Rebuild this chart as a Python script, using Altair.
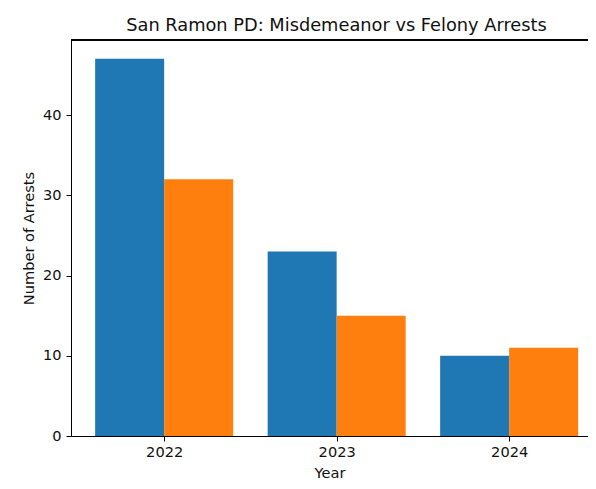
import altair as alt
import pandas as pd

years = ["2022", "2023", "2024"]
series = ["Misdemeanor", "Felony"]
misdemeanor = [47, 23, 10]
felony = [32, 15, 11]
colors = ["#1f77b4", "#ff7f0e"]
y_ticks = [0, 10, 20, 30, 40]

bar_w = 0.4
rows = []
for i, yr in enumerate(years):
    for s, vals, off in ((series[0], misdemeanor, -bar_w), (series[1], felony, 0.0)):
        rows.append({"year": yr, "idx": i, "series": s, "value": vals[i],
                     "x0": i + off, "x1": i + off + bar_w})
df = pd.DataFrame(rows)

FONT = "DejaVu Sans"
label_expr = "[" + ",".join(f"'{y}'" for y in years) + "][datum.value]"

x_scale = alt.Scale(domain=[-0.54, 2.457], nice=False, zero=False)
y_scale = alt.Scale(domain=[0, 49.35], nice=False)

bars = alt.Chart(df).mark_rect().encode(
    x=alt.X("x0:Q", scale=x_scale,
            axis=alt.Axis(values=[0, 1, 2], labelExpr=label_expr, title="Year",
                          grid=False, tickSize=5, tickColor="black", tickWidth=1,
                          domainColor="black", domainWidth=1,
                          labelFont=FONT, labelFontSize=14.6, labelColor="#111",
                          labelPadding=3,
                          titleFont=FONT, titleFontSize=14.6, titleFontWeight="normal",
                          titleColor="#111", titleY=41, titleBaseline="alphabetic")),
    x2="x1:Q",
    y=alt.Y("value:Q", scale=y_scale,
            axis=alt.Axis(values=y_ticks, title="Number of Arrests",
                          grid=False, tickSize=5, tickColor="black", tickWidth=1,
                          domainColor="black", domainWidth=1,
                          labelFont=FONT, labelFontSize=14.6, labelColor="#111",
                          labelPadding=5,
                          titleFont=FONT, titleFontSize=14.6, titleFontWeight="normal",
                          titleColor="#111", titleX=-38, titleBaseline="alphabetic")),
    y2=alt.datum(0),
    color=alt.Color("series:N", scale=alt.Scale(domain=series, range=colors), legend=None),
)

top_spine = alt.Chart(df).mark_rule(color="black", strokeWidth=1).encode(
    x=alt.value(0), x2=alt.value(517), y=alt.value(0)
)

chart = alt.layer(bars, top_spine).properties(
    width=517,
    height=396,
    autosize=alt.AutoSizeParams(type="none"),
    padding={"left": 63, "top": 32, "right": 0, "bottom": 45},
    title=alt.TitleParams("San Ramon PD: Misdemeanor vs Felony Arrests",
                          font=FONT, fontSize=17.8, fontWeight="normal", color="#111",
                          anchor="middle", dx=7, offset=9, dy=18, baseline="alphabetic"),
).configure_view(stroke=None)

chart.save("out.html", embed_options={"renderer": "svg", "actions": False})
